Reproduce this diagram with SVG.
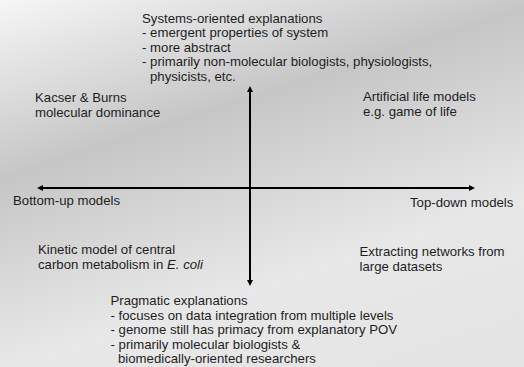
<svg xmlns="http://www.w3.org/2000/svg" width="524" height="367" viewBox="0 0 524 367">
<defs>
<linearGradient id="bg" gradientUnits="userSpaceOnUse" x1="0" y1="0" x2="155" y2="478">
<stop offset="0" stop-color="#f6f6f6"/>
<stop offset="0.34" stop-color="#c6c6c6"/>
<stop offset="0.7" stop-color="#e8e8e8"/>
<stop offset="1" stop-color="#e4e4e4"/>
</linearGradient>
<marker id="ah" viewBox="0 0 6 6" markerWidth="6" markerHeight="6" markerUnits="userSpaceOnUse" refX="0" refY="3" orient="auto-start-reverse">
<path d="M0,0 L6,3 L0,6 z" fill="#000"/>
</marker>
<style>
text{font-family:"Liberation Sans",Arial,sans-serif;font-size:13.2px;fill:#1e1e1e;}
.ax{stroke:#000;stroke-width:2;fill:none;}
</style>
</defs>
<rect x="0" y="0" width="524" height="367" fill="url(#bg)"/>
<g id="connectors">
<line class="ax" x1="250" y1="92" x2="250" y2="280" marker-start="url(#ah)" marker-end="url(#ah)"/>
<line class="ax" x1="43" y1="188" x2="469" y2="188" marker-start="url(#ah)" marker-end="url(#ah)"/>
</g>
<g id="systems">
<text x="142" y="22.5">Systems-oriented explanations</text>
<text x="142" y="37">- emergent properties of system</text>
<text x="142" y="51.5">- more abstract</text>
<text x="142" y="66">- primarily non-molecular biologists, physiologists,</text>
<text x="150" y="80.5">physicists, etc.</text>
</g>
<g id="kacser">
<text x="35" y="101.5">Kacser &amp; Burns</text>
<text x="35" y="116.5">molecular dominance</text>
</g>
<g id="artificial">
<text x="363" y="101">Artificial life models</text>
<text x="363" y="116">e.g. game of life</text>
</g>
<g id="bottomup">
<text x="13" y="205">Bottom-up models</text>
</g>
<g id="topdown">
<text x="410" y="207">Top-down models</text>
</g>
<g id="kinetic">
<text x="38" y="254">Kinetic model of central</text>
<text x="38" y="268.5">carbon metabolism in <tspan font-style="italic">E. coli</tspan></text>
</g>
<g id="extracting">
<text x="359.5" y="256">Extracting networks from</text>
<text x="359.5" y="270.5">large datasets</text>
</g>
<g id="pragmatic">
<text x="110.5" y="305">Pragmatic explanations</text>
<text x="110.5" y="319.5">- focuses on data integration from multiple levels</text>
<text x="110.5" y="334">- genome still has primacy from explanatory POV</text>
<text x="110.5" y="348.5">- primarily molecular biologists &amp;</text>
<text x="118" y="363">biomedically-oriented researchers</text>
</g>
</svg>
